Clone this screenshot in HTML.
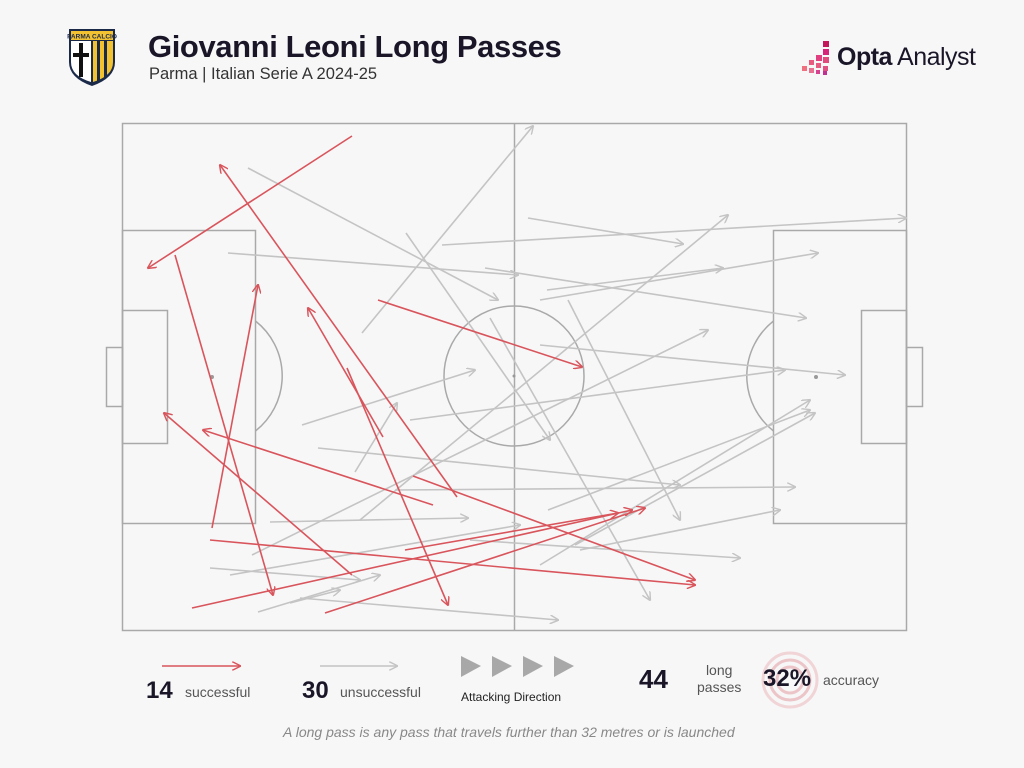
<!DOCTYPE html>
<html><head><meta charset="utf-8"><style>
html,body{margin:0;padding:0;background:#f7f7f8;}
body{width:1024px;height:768px;position:relative;overflow:hidden;font-family:"Liberation Sans",sans-serif;}
.t{position:absolute;white-space:nowrap;}
</style></head><body>
<svg width="1024" height="768" style="position:absolute;left:0;top:0">
<defs>
<marker id="ar" viewBox="0 0 10 10" refX="9" refY="5" markerWidth="9" markerHeight="9" orient="auto" markerUnits="userSpaceOnUse"><path d="M0,0 L10,5 L0,10" fill="none" stroke="#d9555c" stroke-width="1.6"/></marker>
<marker id="ag" viewBox="0 0 10 10" refX="9" refY="5" markerWidth="9" markerHeight="9" orient="auto" markerUnits="userSpaceOnUse"><path d="M0,0 L10,5 L0,10" fill="none" stroke="#c4c4c4" stroke-width="1.6"/></marker>
</defs>
<path d="M69,29 L115,29 L115,62 Q115,78 92,86 Q69,78 69,62 Z" fill="#1c2a4a"/>
<rect x="71" y="31" width="42" height="9" fill="#f2c230"/>
<text x="92" y="38.5" font-size="6.5" fill="#1c2a4a" text-anchor="middle" font-weight="bold" font-family="Liberation Sans">PARMA CALCIO</text>
<path d="M71,41 L91,41 L91,82 Q71,76 71,62 Z" fill="#fff"/>
<path d="M93,41 L113,41 L113,62 Q113,76 93,82 Z" fill="#f2c230"/>
<rect x="97" y="41" width="3" height="40" fill="#1c2a4a"/><rect x="104" y="41" width="3" height="37" fill="#1c2a4a"/>
<rect x="79" y="43" width="4" height="34" fill="#111"/><rect x="73" y="53" width="16" height="4" fill="#111"/>
<g fill="#c2185b">
<rect x="823" y="41" width="6" height="6"/><rect x="823" y="49" width="6" height="6" fill="#d6247a"/><rect x="816" y="55" width="6" height="6" fill="#e04080"/><rect x="823" y="57" width="6" height="6" fill="#e04a7c"/><rect x="809" y="60" width="5" height="5" fill="#e85a80"/><rect x="816" y="63" width="5" height="5" fill="#e85a80"/><rect x="802" y="66" width="5" height="5" fill="#f07080"/><rect x="809" y="68" width="5" height="5" fill="#e87090"/><rect x="823" y="66" width="5" height="5" fill="#e05080"/><rect x="816" y="70" width="4" height="4" fill="#d84090"/><rect x="823" y="71" width="4" height="4" fill="#c03090"/>
</g>
<g fill="none" stroke="#a9a9a9" stroke-width="1.5">
<rect x="122.5" y="123.5" width="784" height="507"/>
<line x1="514.5" y1="123" x2="514.5" y2="631"/>
<circle cx="514" cy="376" r="70"/>
<rect x="122.5" y="230.5" width="133" height="293"/>
<rect x="122.5" y="310.5" width="45" height="133"/>
<rect x="106.5" y="347.5" width="16" height="59"/>
<rect x="773.5" y="230.5" width="133" height="293"/>
<rect x="861.5" y="310.5" width="45" height="133"/>
<rect x="906.5" y="347.5" width="16" height="59"/>
<path d="M255.5,321 A70,70 0 0 1 255.5,431"/>
<path d="M773.5,321 A70,70 0 0 0 773.5,431"/>
</g>
<g fill="#999"><circle cx="212" cy="377" r="2"/><circle cx="816" cy="377" r="2"/><circle cx="514" cy="376" r="1.5"/></g>
<g stroke="#c4c4c4" stroke-width="1.6" marker-end="url(#ag)" fill="none">
<line x1="248" y1="168" x2="498" y2="300"/>
<line x1="362" y1="333" x2="533" y2="126"/>
<line x1="442" y1="245" x2="906" y2="218"/>
<line x1="528" y1="218" x2="683" y2="244"/>
<line x1="485" y1="268" x2="806" y2="318"/>
<line x1="540" y1="300" x2="818" y2="253"/>
<line x1="547" y1="290" x2="723" y2="268"/>
<line x1="228" y1="253" x2="518" y2="275"/>
<line x1="406" y1="233" x2="550" y2="440"/>
<line x1="540" y1="345" x2="845" y2="375"/>
<line x1="410" y1="420" x2="785" y2="370"/>
<line x1="302" y1="425" x2="475" y2="370"/>
<line x1="318" y1="448" x2="680" y2="485"/>
<line x1="360" y1="520" x2="728" y2="215"/>
<line x1="395" y1="490" x2="795" y2="487"/>
<line x1="270" y1="522" x2="468" y2="518"/>
<line x1="490" y1="318" x2="650" y2="600"/>
<line x1="568" y1="300" x2="680" y2="520"/>
<line x1="230" y1="575" x2="520" y2="525"/>
<line x1="252" y1="555" x2="708" y2="330"/>
<line x1="258" y1="612" x2="380" y2="575"/>
<line x1="300" y1="598" x2="558" y2="620"/>
<line x1="210" y1="568" x2="360" y2="580"/>
<line x1="540" y1="565" x2="810" y2="400"/>
<line x1="470" y1="540" x2="740" y2="558"/>
<line x1="575" y1="545" x2="815" y2="413"/>
<line x1="355" y1="472" x2="397" y2="403"/>
<line x1="290" y1="603" x2="340" y2="590"/>
<line x1="548" y1="510" x2="810" y2="410"/>
<line x1="580" y1="550" x2="780" y2="510"/>
</g>
<g stroke="#d9555c" stroke-width="1.6" marker-end="url(#ar)" fill="none">
<line x1="352" y1="136" x2="148" y2="268"/>
<line x1="457" y1="497" x2="220" y2="165"/>
<line x1="175" y1="255" x2="273" y2="595"/>
<line x1="212" y1="528" x2="258" y2="285"/>
<line x1="433" y1="505" x2="203" y2="430"/>
<line x1="352" y1="575" x2="164" y2="413"/>
<line x1="383" y1="437" x2="308" y2="308"/>
<line x1="378" y1="300" x2="582" y2="367"/>
<line x1="413" y1="476" x2="695" y2="580"/>
<line x1="210" y1="540" x2="695" y2="585"/>
<line x1="347" y1="368" x2="448" y2="605"/>
<line x1="192" y1="608" x2="632" y2="510"/>
<line x1="325" y1="613" x2="645" y2="508"/>
<line x1="405" y1="550" x2="618" y2="513"/>
</g>
<line x1="162" y1="666" x2="240" y2="666" stroke="#d9555c" stroke-width="1.6" marker-end="url(#ar)"/>
<line x1="320" y1="666" x2="397" y2="666" stroke="#c4c4c4" stroke-width="1.6" marker-end="url(#ag)"/>
<g fill="#a8a8a8">
<path d="M461,656 L481,666 L461,677 Z"/><path d="M492,656 L512,666 L492,677 Z"/><path d="M523,656 L543,666 L523,677 Z"/><path d="M554,656 L574,666 L554,677 Z"/>
</g>
<circle cx="790" cy="680" r="27" fill="none" stroke="#f0d4d6" stroke-width="3"/>
<circle cx="790" cy="680" r="20" fill="none" stroke="#ecc5c8" stroke-width="3"/>
<circle cx="790" cy="680" r="13" fill="none" stroke="#ecc5c8" stroke-width="3"/>
</svg>
<div class="t" style="left:148px;top:29px;font-size:31px;font-weight:bold;color:#1a1628;letter-spacing:-0.4px">Giovanni Leoni Long Passes</div>
<div class="t" style="left:149px;top:65px;font-size:16.5px;color:#333">Parma | Italian Serie A 2024-25</div>
<div class="t" style="left:837px;top:43px;font-size:25px;color:#1a1628;letter-spacing:-0.5px"><b>Opta</b> Analyst</div>
<div class="t" style="left:146px;top:677px;font-size:24px;font-weight:bold;color:#1a1628">14</div>
<div class="t" style="left:185px;top:684px;font-size:14px;color:#555">successful</div>
<div class="t" style="left:302px;top:677px;font-size:24px;font-weight:bold;color:#1a1628">30</div>
<div class="t" style="left:340px;top:684px;font-size:14px;color:#555">unsuccessful</div>
<div class="t" style="left:461px;top:690px;font-size:12px;color:#222">Attacking Direction</div>
<div class="t" style="left:639px;top:664px;font-size:26px;font-weight:bold;color:#1a1628">44</div>
<div class="t" style="left:697px;top:662px;font-size:14px;color:#555;text-align:center;line-height:17px">long<br>passes</div>
<div class="t" style="left:763px;top:665px;font-size:24px;font-weight:bold;color:#1a1628">32%</div>
<div class="t" style="left:823px;top:672px;font-size:14px;color:#555">accuracy</div>
<div class="t" style="left:283px;top:724px;font-size:14px;font-style:italic;color:#888">A long pass is any pass that travels further than 32 metres or is launched</div>
</body></html>
